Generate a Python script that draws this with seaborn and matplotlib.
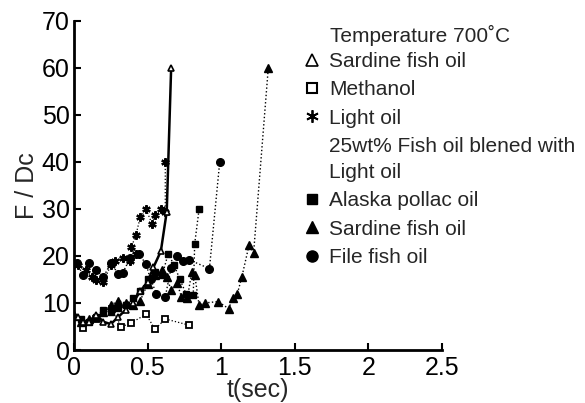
import matplotlib
matplotlib.use("Agg")
import matplotlib.pyplot as plt
from matplotlib.lines import Line2D
import seaborn as sns
import pandas as pd

# ---- data ----
sardine_open_t = [0.0, 0.03, 0.06, 0.10, 0.15, 0.20, 0.25, 0.30, 0.35, 0.40, 0.45, 0.50, 0.54, 0.59, 0.63, 0.66]
sardine_open_y = [7.5, 7.0, 6.0, 6.0, 7.5, 6.0, 5.5, 7.0, 8.5, 10.0, 12.5, 14.5, 17.6, 21.0, 29.4, 60.0]

methanol_t = [0.06, 0.15, 0.26, 0.32, 0.39, 0.49, 0.55, 0.62, 0.78]
methanol_y = [4.6, 6.5, 8.8, 4.9, 5.8, 7.6, 4.4, 6.6, 5.3]

light_t = [0.03, 0.08, 0.12, 0.15, 0.20, 0.25, 0.28, 0.33, 0.38, 0.42, 0.39, 0.42, 0.45, 0.49, 0.53, 0.55, 0.59, 0.62, 0.62]
light_y = [18.0, 17.0, 15.5, 14.8, 14.5, 18.0, 19.0, 19.5, 19.0, 20.5, 21.9, 24.4, 28.2, 29.9, 26.8, 28.6, 29.9, 29.4, 40.0]

alaska_t = [0.00, 0.05, 0.10, 0.15, 0.20, 0.25, 0.30, 0.35, 0.40, 0.45, 0.50, 0.55, 0.60, 0.64, 0.68, 0.72, 0.76, 0.81, 0.82, 0.85]
alaska_y = [7.0, 6.5, 6.0, 7.0, 8.5, 8.0, 9.0, 9.5, 11.0, 12.5, 15.0, 16.5, 16.0, 20.5, 18.0, 15.0, 12.0, 11.6, 22.6, 30.0]

sardine_t = [0.00, 0.05, 0.10, 0.15, 0.20, 0.25, 0.30, 0.35, 0.40, 0.45, 0.50, 0.55, 0.60, 0.63, 0.66, 0.70, 0.73, 0.77,
             0.80, 0.82, 0.85, 0.89, 0.98, 1.05, 1.08, 1.11, 1.14, 1.19, 1.22, 1.32]
sardine_y = [7.5, 6.0, 6.5, 7.0, 8.0, 9.5, 10.5, 10.0, 9.5, 10.5, 14.0, 16.0, 17.0, 15.5, 12.7, 14.2, 11.3, 11.0,
             16.6, 16.0, 9.5, 10.0, 10.3, 8.8, 11.0, 12.0, 15.5, 22.4, 20.6, 60.0]

filefish_t = [0.02, 0.06, 0.10, 0.15, 0.20, 0.25, 0.30, 0.33, 0.38, 0.44, 0.49, 0.52, 0.56, 0.62, 0.66, 0.70, 0.74, 0.78, 0.92, 0.99]
filefish_y = [18.5, 16.0, 18.5, 17.0, 15.5, 18.5, 16.2, 16.3, 19.5, 20.5, 18.2, 15.0, 12.0, 11.3, 17.5, 20.0, 19.0, 19.2, 17.3, 40.0]

x_ticks = [0, 0.5, 1, 1.5, 2, 2.5]
x_tick_labels = ["0", "0.5", "1", "1.5", "2", "2.5"]
y_ticks = [0, 10, 20, 30, 40, 50, 60, 70]

legend_title = "Temperature 700˚C"
legend_labels = ["Sardine fish oil", "Methanol", "Light oil",
                 "25wt% Fish oil blened with\nLight oil",
                 "Alaska pollac oil", "Sardine fish oil", "File fish oil"]

# ---- style ----
sns.set_style("ticks")
plt.rcParams["font.family"] = ["Liberation Sans", "DejaVu Sans"]

fig = plt.figure(figsize=(5.85, 4.03), dpi=100)
ax = fig.add_axes([74 / 585, 1 - 350 / 403, (442 - 74) / 585, (350 - 20.7) / 403])

def draw(t, y, marker, ms, ls, lw, mfc="black", mew=1.0):
    df = pd.DataFrame({"t": t, "y": y})
    sns.lineplot(data=df, x="t", y="y", ax=ax, sort=False, estimator=None,
                 color="black", linestyle=ls, linewidth=lw, marker=marker,
                 markersize=ms, markerfacecolor=mfc, markeredgecolor="black",
                 markeredgewidth=mew)

draw(methanol_t, methanol_y, "s", 4.5, ":", 0.9, mfc="white", mew=1.3)
draw(light_t, light_y, (6, 2, 0), 6, ":", 0.9, mew=1.6)
draw(filefish_t, filefish_y, "o", 5.5, ":", 1.0)
draw(alaska_t, alaska_y, "s", 5, ":", 1.0)
draw(sardine_t, sardine_y, "^", 6, ":", 1.0)
draw(sardine_open_t, sardine_open_y, "^", 5, "-", 1.8, mfc="white", mew=1.2)

ax.set_xlim(0, 2.5)
ax.set_ylim(0, 70)
ax.set_xticks(x_ticks)
ax.set_xticklabels(x_tick_labels)
ax.set_yticks(y_ticks)
ax.tick_params(axis="both", direction="in", length=5, width=1.5, labelsize=18, pad=3, colors="black")
ax.tick_params(axis="x", pad=4.5)
ax.set_xlabel("t(sec)", fontsize=18, labelpad=-1.5)
ax.set_ylabel("F / Dc", fontsize=18, labelpad=2)
sns.despine(ax=ax)
for s in ("left", "bottom"):
    ax.spines[s].set_linewidth(2)
    ax.spines[s].set_color("black")

# ---- legend ----
handles = [
    Line2D([], [], ls="none", marker="^", ms=9, mfc="white", mec="black", mew=1.2),
    Line2D([], [], ls="none", marker="s", ms=7, mfc="white", mec="black", mew=1.5),
    Line2D([], [], ls="none", marker=(6, 2, 0), ms=9, mec="black", mew=1.3),
    Line2D([], [], ls="none"),
    Line2D([], [], ls="none", marker="s", ms=7.5, mfc="black", mec="black"),
    Line2D([], [], ls="none", marker="^", ms=9, mfc="black", mec="black"),
    Line2D([], [], ls="none", marker="o", ms=8, mfc="black", mec="black"),
]
fig.text(330 / 585, 1 - 35 / 403, legend_title, fontsize=15, va="center", ha="left")
leg = fig.legend(handles, legend_labels, loc="upper left",
                 bbox_to_anchor=(303 / 585, 1 - 52 / 403), frameon=False,
                 fontsize=15, handlelength=0.85, handletextpad=0.4,
                 labelspacing=0.45, borderpad=0, borderaxespad=0)
leg.get_texts()[3].set_linespacing(1.45)

fig.savefig("out.png", dpi=100)
